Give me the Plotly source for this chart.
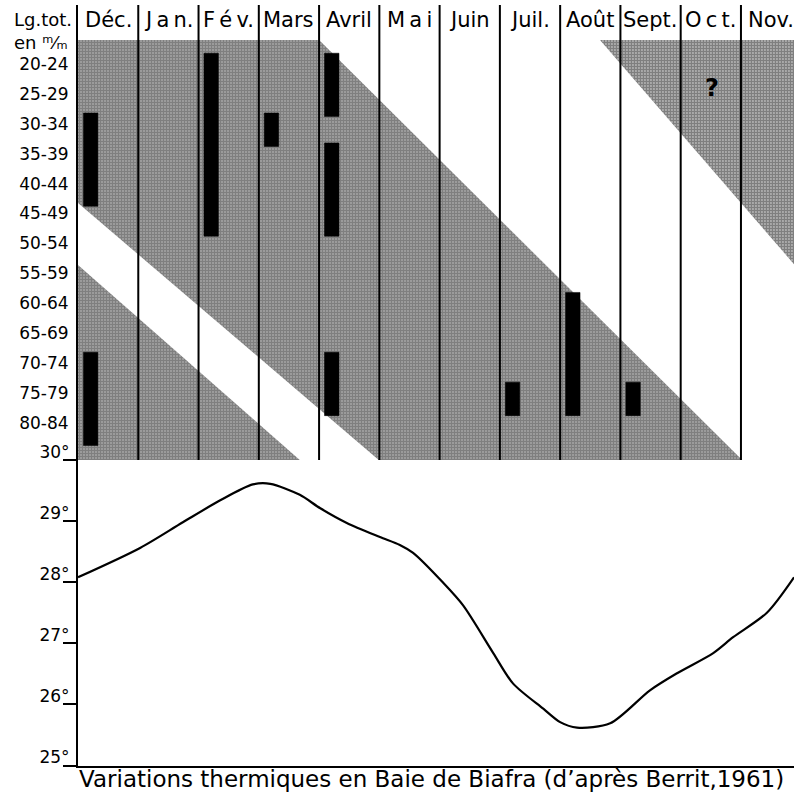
import plotly.graph_objects as go

# ---------------- data ----------------
months = ["Déc.", "J\u2009a\u2009n.", "F\u2009é\u2009v.", "Mars", "Avril", "M\u2009a\u2009i",
          "Juin", "Juil.", "Août", "Sept.", "O\u2009c\u2009t.", "Nov."]
length_classes = ["20-24", "25-29", "30-34", "35-39", "40-44", "45-49", "50-54",
                  "55-59", "60-64", "65-69", "70-74", "75-79", "80-84"]

# presence bars: month column index, first and last length-class index
bar_month = [0, 0, 2, 3, 4, 4, 4, 7, 8, 9]
bar_from = [2, 10, 0, 2, 0, 3, 10, 11, 8, 11]
bar_to = [4, 12, 5, 2, 1, 5, 11, 11, 11, 11]

# shaded bands (month position, length-class position)
band_a_x = [0, 4.0, 11.02, 4.99, 0]
band_a_y = [-0.80, -0.80, 13.24, 13.24, 4.65]
band_b_x = [0, 3.68, 0]
band_b_y = [6.72, 13.24, 13.24]
band_c_x = [8.66, 12.2, 12.2]
band_c_y = [-0.80, -0.80, 7.44]

# temperature curve (month position, °C)
temp_x = [0.0, 1.03, 1.74, 2.36, 2.90, 3.19, 3.68, 4.02, 4.46, 5.01, 5.34, 5.56,
          6.06, 6.39, 6.89, 7.22, 7.72, 8.00, 8.28, 8.83, 9.49, 9.94, 10.54,
          10.87, 11.43, 11.88]
temp_c = [28.08, 28.56, 28.98, 29.34, 29.60, 29.61, 29.43, 29.21, 28.97, 28.74, 28.61,
          28.48, 27.99, 27.62, 26.84, 26.34, 25.93, 25.71, 25.62, 25.69, 26.23, 26.51,
          26.84, 27.10, 27.50, 28.08]
temp_ticks = [25, 26, 27, 28, 29, 30]

FONT = "DejaVu Sans"
X_MAX = 11.88
ROW_TOP = -1.973
ROW_BOT = 13.244
SPLIT = (766 - 460) / 761

fig = go.Figure()

pat = dict(shape=".", fgcolor="black", bgcolor="white", size=3, solidity=0.82)
for bx, by in [(band_a_x, band_a_y), (band_b_x, band_b_y)]:
    fig.add_trace(go.Scatter(x=bx, y=by, mode="lines", fill="toself",
                             line=dict(width=0, color="rgba(0,0,0,0)"),
                             fillpattern=pat, fillcolor="white",
                             hoverinfo="skip", showlegend=False, yaxis="y"))
fig.add_trace(go.Scatter(x=band_c_x, y=band_c_y, mode="lines", fill="toself",
                         line=dict(width=0, color="rgba(0,0,0,0)"),
                         fillpattern=dict(shape=".", fgcolor="black", bgcolor="white",
                                          size=3, solidity=0.8),
                         fillcolor="white", hoverinfo="skip", showlegend=False, yaxis="y"))

# column separators
vx, vy = [], []
for k in range(1, 12):
    vx += [k, k, None]
    vy += [ROW_TOP, ROW_BOT, None]
fig.add_trace(go.Scatter(x=vx, y=vy, mode="lines", line=dict(color="black", width=2),
                         hoverinfo="skip", showlegend=False, yaxis="y"))

# presence bars
rx, ry = [], []
for m, a, b in zip(bar_month, bar_from, bar_to):
    x0, x1 = m + 0.09, m + 0.33
    y0, y1 = a - 0.36, b + 0.76
    rx += [x0, x1, x1, x0, x0, None]
    ry += [y0, y0, y1, y1, y0, None]
fig.add_trace(go.Scatter(x=rx, y=ry, mode="lines", fill="toself", fillcolor="black",
                         line=dict(color="black", width=0.5),
                         hoverinfo="skip", showlegend=False, yaxis="y"))

# temperature curve
fig.add_trace(go.Scatter(x=temp_x, y=temp_c, mode="lines",
                         line=dict(color="black", width=2.2, shape="spline", smoothing=0.8),
                         hoverinfo="skip", showlegend=False, yaxis="y2"))

# month headers
for i, m in enumerate(months):
    fig.add_annotation(x=i + 0.5, y=-1.47, xref="x", yref="y", text=m, showarrow=False,
                       font=dict(family=FONT, size=21, color="black"),
                       xanchor="center", yanchor="middle")

fig.add_annotation(x=(12 - 78) / 716, y=-1.1, xref="paper", yref="y",
                   text="Lg.tot.<br>en \u1d50\u2044\u2098", showarrow=False, align="left",
                   font=dict(family=FONT, size=18, color="black"),
                   xanchor="left", yanchor="middle")
fig.add_annotation(x=10.52, y=0.80, xref="x", yref="y", text="<b>?</b>", showarrow=False,
                   font=dict(family=FONT, size=24, color="black"), xanchor="center",
                   yanchor="middle")
fig.add_annotation(x=(431.5 - 78) / 60.27, y=-(779 - 766) / 761, xref="x", yref="paper",
                   text="Variations thermiques en Baie de Biafra (d\u2019après Berrit,1961)",
                   showarrow=False, font=dict(family=FONT, size=23, color="black"),
                   xanchor="center", yanchor="middle")

fig.update_layout(
    width=794, height=792,
    margin=dict(l=78, r=0, t=5, b=26, autoexpand=False),
    paper_bgcolor="white", plot_bgcolor="white",
    showlegend=False,
    xaxis=dict(range=[0, X_MAX], domain=[0, 1], anchor="y2", showline=True,
               linecolor="black", linewidth=2, showticklabels=False, ticks="",
               showgrid=False, zeroline=False, fixedrange=True, automargin=False),
    yaxis=dict(domain=[SPLIT, 1], range=[ROW_BOT, ROW_TOP], anchor="x",
               tickvals=list(range(len(length_classes))), ticktext=length_classes,
               ticks="", showline=True, linecolor="black", linewidth=2,
               showgrid=False, zeroline=False, ticklabelstandoff=4, automargin=False,
               tickfont=dict(family=FONT, size=17, color="black")),
    yaxis2=dict(domain=[0, SPLIT], range=[24.992, 30], anchor="x",
                tickvals=temp_ticks, ticktext=[f"{t}°" for t in temp_ticks],
                ticks="outside", ticklen=13, tickwidth=2, tickcolor="black",
                showline=True, linecolor="black", linewidth=2,
                showgrid=False, zeroline=False, ticklabelstandoff=-10,
                ticklabelshift=-8, automargin=False,
                tickfont=dict(family=FONT, size=17, color="black")),
)

fig.write_html("out.html")
